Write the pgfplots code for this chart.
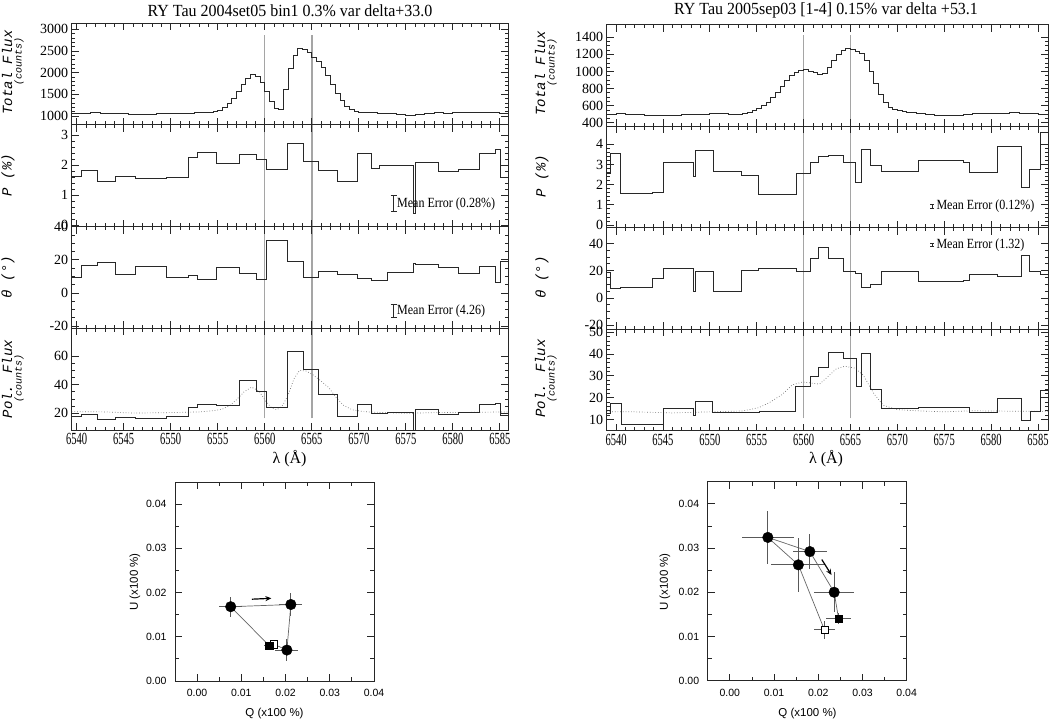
\documentclass[border=0pt]{standalone}
\usepackage{fontspec}
\setmainfont{Liberation Serif}
\newfontfamily\xtf{Liberation Serif}[FakeStretch=0.62]
\newfontfamily\mef{Liberation Serif}[FakeStretch=0.86]
\newfontfamily\ttf{Liberation Serif}[FakeStretch=0.94]
\newfontfamily\lfont{Liberation Mono}
\newfontfamily\qfont{Liberation Sans}
\usepackage{pgfplots}
\usepackage{pgfplotstable}
\pgfplotsset{compat=1.18}
\usetikzlibrary{arrows.meta}
\definecolor{lc}{RGB}{40,40,40}
\definecolor{vl}{RGB}{165,165,165}

% ---------- left spectrum (2004set05) ----------
\pgfplotstableread[row sep=\\]{
x y\\
6539.47 1060\\ 6540.5 1065\\ 6541.5 1070\\ 6542.5 1068\\ 6543.5 1055\\ 6544.5 1050\\ 6545.5 1040\\ 6546.5 1035\\
6547.5 1045\\ 6548.5 1058\\ 6549.5 1062\\ 6550.5 1068\\ 6551.5 1065\\ 6552.5 1070\\ 6553.5 1080\\ 6554.0 1085\\
6554.5 1100\\ 6555.0 1130\\ 6555.5 1190\\ 6556.0 1280\\ 6556.5 1410\\ 6557.0 1560\\ 6557.5 1720\\ 6558.0 1860\\
6558.5 1950\\ 6559.0 1920\\ 6559.5 1780\\ 6560.0 1560\\ 6560.5 1330\\ 6561.0 1170\\ 6561.5 1155\\ 6562.0 1600\\
6562.5 2100\\ 6563.0 2400\\ 6563.5 2570\\ 6564.0 2540\\ 6564.5 2460\\ 6565.0 2360\\ 6565.5 2260\\ 6566.0 2120\\
6566.5 1930\\ 6567.0 1720\\ 6567.5 1520\\ 6568.0 1350\\ 6568.5 1220\\ 6569.0 1140\\ 6569.5 1100\\ 6570.0 1085\\
6570.5 1080\\ 6571 1075\\ 6572 1065\\ 6573 1050\\ 6574 1030\\ 6575 1015\\ 6576 1035\\ 6577 1060\\
6578 1070\\ 6579 1065\\ 6580 1070\\ 6581 1075\\ 6582 1070\\ 6583 1075\\ 6584 1070\\ 6585 1060\\ 6585.9 1060\\
}\LflA
\pgfplotstableread[row sep=\\]{
x y\\
6539.47 1.63\\ 6540.5 1.80\\ 6542.2 1.44\\ 6544.1 1.63\\ 6546.2 1.56\\ 6549.5 1.59\\ 6551.9 2.26\\ 6552.8 2.41\\
6554.9 2.06\\ 6557.3 2.36\\ 6559.1 2.19\\ 6560.2 1.86\\ 6562.4 2.72\\ 6564.1 2.13\\ 6565.7 1.81\\ 6567.7 1.46\\
6569.9 2.39\\ 6571.3 1.88\\ 6572.2 1.97\\ 6575.8 0.39\\ 6576.0 2.09\\ 6578.5 1.77\\ 6580.6 1.86\\ 6582.8 2.39\\
6584.5 2.50\\ 6585.1 1.59\\ 6585.9 1.59\\
}\LP
\pgfplotstableread[row sep=\\]{
x y\\
6539.47 9.6\\ 6540.5 16.6\\ 6542.2 18.4\\ 6544.1 11.0\\ 6546.2 16.0\\ 6549.5 9.6\\ 6551.9 10.6\\ 6552.8 8.4\\
6554.9 15.4\\ 6557.3 12.0\\ 6559.1 8.0\\ 6560.2 31.7\\ 6562.4 19.0\\ 6564.1 9.4\\ 6565.7 13.0\\ 6567.7 11.4\\
6569.9 8.6\\ 6571.3 7.4\\ 6573.1 12.4\\ 6575.8 18.1\\ 6576.0 17.0\\ 6578.5 15.1\\ 6580.6 11.6\\ 6582.8 15.7\\
6584.5 6.4\\ 6585.1 19.0\\ 6585.9 19.0\\
}\LT
\pgfplotstableread[row sep=\\]{
x y\\
6539.47 18.1\\ 6540.5 19.0\\ 6542.2 16.0\\ 6544.1 17.0\\ 6546.2 16.7\\ 6549.5 17.7\\ 6551.9 24.2\\ 6552.8 26.0\\
6554.9 25.5\\ 6557.3 43.2\\ 6559.1 35.5\\ 6560.2 24.0\\ 6562.4 63.5\\ 6564.1 50.5\\ 6565.7 33.0\\ 6567.7 18.0\\
6569.9 26.5\\ 6571.3 20.0\\ 6573.1 20.3\\ 6575.8 2.0\\ 6576.0 22.5\\ 6578.5 19.5\\ 6580.6 20.5\\ 6582.8 26.0\\
6584.5 27.0\\ 6585.1 18.8\\ 6585.9 18.8\\
}\LPF
\pgfplotstableread[row sep=\\]{
x y\\
6539.47 21.2\\ 6543 21\\ 6546 20.2\\ 6550 20.5\\ 6553 21\\ 6554.5 21.8\\ 6555.5 23\\ 6556.3 25.5\\ 6557 29.5\\
6557.8 35\\ 6558.6 38.3\\ 6559.4 35.5\\ 6560.2 27.5\\ 6560.8 23.5\\ 6561.3 22.5\\ 6561.9 25.5\\ 6562.5 33\\
6563.1 44\\ 6563.7 50\\ 6564.4 49.5\\ 6565.1 47\\ 6565.9 43\\ 6566.8 38\\ 6567.6 31\\ 6568.4 25.5\\ 6569.3 22.5\\
6570.5 21.2\\ 6572 20.7\\ 6575 20\\ 6578 20.5\\ 6582 20.7\\ 6585.9 21\\
}\LPFd

% ---------- right spectrum (2005sep03) ----------
\pgfplotstableread[row sep=\\]{
x y\\
6539.0 500\\ 6540 505\\ 6541 500\\ 6542 495\\ 6543 490\\ 6544 485\\ 6545 480\\ 6546 490\\ 6547 495\\ 6548 492\\
6549 498\\ 6550 505\\ 6551 510\\ 6552 500\\ 6553 495\\ 6553.5 505\\ 6554.0 520\\ 6554.5 545\\ 6555.0 570\\
6555.5 600\\ 6556.0 640\\ 6556.5 690\\ 6557.0 750\\ 6557.5 830\\ 6558.0 900\\ 6558.5 950\\ 6559.0 990\\
6559.5 1015\\ 6560.0 1020\\ 6560.5 1005\\ 6561.0 985\\ 6561.5 970\\ 6562.0 980\\ 6562.5 1050\\ 6563.0 1130\\
6563.5 1200\\ 6564.0 1250\\ 6564.5 1265\\ 6565.0 1260\\ 6565.5 1240\\ 6566.0 1210\\ 6566.5 1130\\ 6567.0 1000\\
6567.5 860\\ 6568.0 730\\ 6568.5 640\\ 6569.0 580\\ 6569.5 555\\ 6570.0 540\\ 6570.5 530\\ 6571 520\\ 6572 510\\
6573 500\\ 6574 485\\ 6575 480\\ 6576 490\\ 6577 500\\ 6578 505\\ 6579 505\\ 6580 510\\ 6581 505\\ 6582 515\\
6583 508\\ 6584 505\\ 6585 500\\ 6586.1 500\\
}\RflA
\pgfplotstableread[row sep=\\]{
x y\\
6539.0 2.56\\ 6539.4 3.55\\ 6540.5 1.57\\ 6543.9 1.62\\ 6545.1 3.10\\ 6548.2 2.39\\ 6548.5 3.71\\ 6550.4 2.67\\
6553.4 2.48\\ 6555.2 1.52\\ 6559.2 2.54\\ 6560.7 3.10\\ 6561.6 3.38\\ 6562.6 3.47\\ 6564.3 3.10\\ 6565.5 2.11\\
6566.2 3.75\\ 6567.1 2.97\\ 6568.3 2.64\\ 6572.3 3.22\\ 6577.1 3.10\\ 6577.7 2.61\\ 6580.7 3.88\\ 6583.2 1.87\\
6584.1 2.76\\ 6585.3 4.57\\ 6586.1 4.57\\
}\RP
\pgfplotstableread[row sep=\\]{
x y\\
6539.0 18.6\\ 6539.4 7.1\\ 6540.5 7.9\\ 6543.9 14.3\\ 6545.1 21.9\\ 6548.2 4.8\\ 6548.5 19.7\\ 6550.4 5.0\\
6553.4 20.5\\ 6555.2 21.4\\ 6559.2 19.3\\ 6560.7 29.3\\ 6561.6 37.1\\ 6562.6 28.8\\ 6564.3 19.7\\ 6565.5 18.1\\
6566.2 7.9\\ 6567.1 10.2\\ 6568.3 19.7\\ 6572.3 12.1\\ 6577.1 12.6\\ 6577.7 17.1\\ 6580.7 15.5\\ 6583.2 30.9\\
6584.1 19.7\\ 6585.3 17.4\\ 6586.1 17.4\\
}\RT
\pgfplotstableread[row sep=\\]{
x y\\
6539.0 12.7\\ 6539.4 17.5\\ 6540.6 7.9\\ 6545.1 15.0\\ 6548.2 11.9\\ 6548.5 18.4\\ 6550.3 13.4\\ 6553.4 13.0\\
6555.3 13.7\\ 6559.1 25.1\\ 6560.7 29.6\\ 6561.6 34.0\\ 6562.6 40.9\\ 6564.3 38.2\\ 6565.6 25.1\\ 6566.2 40.2\\
6567.1 24.0\\ 6568.3 15.0\\ 6572.2 15.7\\ 6577.7 13.4\\ 6580.7 19.7\\ 6583.2 9.7\\ 6584.2 13.9\\ 6585.3 23.5\\
6586.1 23.5\\
}\RPF
\pgfplotstableread[row sep=\\]{
x y\\
6539.0 13.6\\ 6542 13.5\\ 6546 13.0\\ 6550 13.5\\ 6553.5 13.9\\ 6555.2 15.4\\ 6556.3 17.6\\ 6557.7 21.4\\
6558.8 25.9\\ 6559.9 27.2\\ 6561 26.6\\ 6561.7 26.2\\ 6562.6 29.7\\ 6563.5 33.3\\ 6564.4 34.4\\ 6565.5 33.5\\
6566.4 30.1\\ 6567.5 21.8\\ 6568.5 16.5\\ 6570 14.5\\ 6572 14\\ 6575 13.5\\ 6578 14\\ 6582 13.8\\ 6586.1 13.7\\
}\RPFd

% ---------- QU diagrams ----------
\pgfplotstableread[row sep=\\]{
x y\\
0.0163 0.0080\\ 0.0076 0.0168\\ 0.0212 0.0173\\ 0.0203 0.0070\\ 0.0174 0.0083\\
}\QLpath
\pgfplotstableread[row sep=\\]{
x y ex ey\\
0.0076 0.0168 0.0026 0.0023\\
0.0212 0.0173 0.0026 0.0026\\
0.0203 0.0070 0.0026 0.0025\\
}\QLc
\pgfplotstableread[row sep=\\]{
x y ex ey\\
0.0163 0.0080 0.0012 0.0005\\
}\QLf
\pgfplotstableread[row sep=\\]{
x y ex ey\\
0.0174 0.0083 0.0010 0.0008\\
}\QLo
\pgfplotstableread[row sep=\\]{
x y\\
0.0214 0.0115\\ 0.0155 0.0262\\ 0.0086 0.0324\\ 0.0181 0.0292\\ 0.0236 0.0200\\ 0.0246 0.0140\\
}\QRpath
\pgfplotstableread[row sep=\\]{
x y ex ey\\
0.0086 0.0324 0.0059 0.0059\\
0.0181 0.0292 0.0038 0.0039\\
0.0155 0.0262 0.0061 0.0061\\
0.0236 0.0200 0.0045 0.0045\\
}\QRc
\pgfplotstableread[row sep=\\]{
x y ex ey\\
0.0246 0.0140 0.0029 0.0012\\
}\QRf
\pgfplotstableread[row sep=\\]{
x y ex ey\\
0.0214 0.0115 0.0023 0.0020\\
}\QRo

\pgfplotsset{
  pcommon/.style={scale only axis, anchor=north west, tick align=inside,
    xtick={6540,6545,...,6585}, minor x tick num=4,
    major tick length=7pt, minor tick length=3.5pt,
    axis line style={line width=1pt, draw=lc},
    tick style={lc, line width=0.75pt},
    xticklabel style={font=\xtf\fontsize{17}{17}\selectfont},
    yticklabel style={font=\fontsize{14}{14}\selectfont},
    /pgf/number format/assume math mode=true,
    /pgf/number format/1000 sep={},
    axis on top},
  panelL/.style={pcommon, at={(71.7pt,#1)}, width=436.6pt, height=101.7pt, xmin=6539.47, xmax=6585.9},
  panelR/.style={pcommon, at={(606.7pt,#1)}, width=441.6pt, height=101.4pt, xmin=6539.0, xmax=6586.1},
  stepline/.style={const plot mark left, no marks, draw=lc, line width=0.9pt},
  dotline/.style={sharp plot, no marks, draw=black!55, line width=0.7pt, dotted},
  meanbar/.style={no marks, draw=lc, line width=0.8pt, arrows={Bar[width=#1]-Bar[width=#1]}},
  qu/.style={scale only axis, anchor=south west, width=199pt, height=199pt,
    xmin=-0.005, xmax=0.04, ymin=0, ymax=0.045,
    xtick={0,0.01,0.02,0.03,0.04}, ytick={0,0.01,0.02,0.03,0.04},
    minor x tick num=1, minor y tick num=1, tick align=inside,
    major tick length=7pt, minor tick length=4pt, scaled ticks=false,
    axis line style={line width=1pt, draw=black!85},
    tick style={black!85, line width=0.8pt},
    tick label style={font=\qfont\fontsize{10.5}{10.5}\selectfont},
    xticklabel style={yshift=-5pt, /pgf/number format/.cd, fixed, fixed zerofill, precision=2, assume math mode=true},
    yticklabel style={xshift=-5pt, /pgf/number format/.cd, fixed, fixed zerofill, precision=2, assume math mode=true},
    clip=false},
  errs/.style={error bars/.cd, x dir=both, x explicit, y dir=both, y explicit,
    error mark=none, error bar style={draw=black!65, line width=0.8pt, solid}},
}

\begin{document}
\begin{tikzpicture}
\useasboundingbox (0,0) rectangle (1051pt,721pt);

% ================= LEFT STACK =================
\begin{axis}[panelL={697.7pt}, ymin=790, ymax=3140, ytick={1000,1500,...,3000}, minor y tick num=4, xticklabels={}]
\addplot[vl, line width=1pt] coordinates {(6560,790) (6560,2860)};
\addplot[vl, line width=1.5pt] coordinates {(6565,790) (6565,2860)};
\addplot[stepline] table[x=x,y=y] {\LflA};
\end{axis}

\begin{axis}[panelL={596pt}, ymin=-0.06, ymax=3.33, ytick={0,1,2,3}, minor y tick num=4, xticklabels={}]
\addplot[vl, line width=1pt] coordinates {(6560,-0.06) (6560,3.33)};
\addplot[vl, line width=1.5pt] coordinates {(6565,-0.06) (6565,3.33)};
\addplot[stepline] table[x=x,y=y] {\LP};
\addplot[meanbar=6pt] coordinates {(6573.7,0.42) (6573.7,0.98)};
\node[anchor=west, inner sep=1pt, font=\mef\fontsize{14}{14}\selectfont] at (axis cs:6573.95,0.70) {Mean Error (0.28\%)};
\end{axis}

\begin{axis}[panelL={494.3pt}, ymin=-21.4, ymax=40, ytick={-20,0,20,40}, minor y tick num=3, xticklabels={}]
\addplot[vl, line width=1pt] coordinates {(6560,-21.4) (6560,40)};
\addplot[vl, line width=1.5pt] coordinates {(6565,-21.4) (6565,40)};
\addplot[stepline] table[x=x,y=y] {\LT};
\addplot[meanbar=6pt] coordinates {(6573.7,-15.06) (6573.7,-6.54)};
\node[anchor=west, inner sep=1pt, font=\mef\fontsize{14}{14}\selectfont] at (axis cs:6573.95,-10.8) {Mean Error (4.26)};
\end{axis}

\begin{axis}[panelL={392.6pt}, ymin=8.3, ymax=79.3, ytick={20,40,60}, minor y tick num=3]
\addplot[vl, line width=1pt] coordinates {(6560,16.5) (6560,79.3)};
\addplot[vl, line width=1.5pt] coordinates {(6565,16.5) (6565,79.3)};
\addplot[dotline] table[x=x,y=y] {\LPFd};
\addplot[stepline] table[x=x,y=y] {\LPF};
\end{axis}

% ================= RIGHT STACK =================
\begin{axis}[panelR={696pt}, ymin=357, ymax=1544, ytick={400,600,...,1400}, minor y tick num=3, xticklabels={}]
\addplot[vl, line width=1.5pt] coordinates {(6560,357) (6560,1427)};
\addplot[vl, line width=1.5pt] coordinates {(6565,357) (6565,1427)};
\addplot[stepline] table[x=x,y=y] {\RflA};
\end{axis}

\begin{axis}[panelR={594.6pt}, ymin=-0.14, ymax=4.89, ytick={0,1,2,3,4}, minor y tick num=4, xticklabels={}]
\addplot[vl, line width=1.5pt] coordinates {(6560,-0.14) (6560,4.89)};
\addplot[vl, line width=1.5pt] coordinates {(6565,-0.14) (6565,4.89)};
\addplot[stepline] table[x=x,y=y] {\RP};
\addplot[meanbar=4pt] coordinates {(6573.7,0.82) (6573.7,1.06)};
\node[anchor=west, inner sep=1pt, font=\mef\fontsize{14}{14}\selectfont] at (axis cs:6574.05,0.94) {Mean Error (0.12\%)};
\end{axis}

\begin{axis}[panelR={493.2pt}, ymin=-23, ymax=51.5, ytick={-20,0,20,40}, minor y tick num=3, xticklabels={}]
\addplot[vl, line width=1.5pt] coordinates {(6560,-23) (6560,51.5)};
\addplot[vl, line width=1.5pt] coordinates {(6565,-23) (6565,51.5)};
\addplot[stepline] table[x=x,y=y] {\RT};
\addplot[meanbar=4pt] coordinates {(6573.7,37.48) (6573.7,40.12)};
\node[anchor=west, inner sep=1pt, font=\mef\fontsize{14}{14}\selectfont] at (axis cs:6574.05,38.8) {Mean Error (1.32)};
\end{axis}

\begin{axis}[panelR={391.8pt}, ymin=4.9, ymax=51.4, ytick={10,20,30,40,50}, minor y tick num=4]
\addplot[vl, line width=1.5pt] coordinates {(6560,10.5) (6560,51.4)};
\addplot[vl, line width=1.5pt] coordinates {(6565,10.5) (6565,51.4)};
\addplot[dotline] table[x=x,y=y] {\RPFd};
\addplot[stepline] table[x=x,y=y] {\RPF};
\end{axis}

% titles and labels
\node[font=\ttf\fontsize{17}{17}\selectfont] at (290pt,710.5pt) {RY Tau 2004set05 bin1 0.3\% var delta+33.0};
\node[font=\ttf\fontsize{17}{17}\selectfont] at (826pt,710.5pt) {RY Tau 2005sep03 [1-4] 0.15\% var delta +53.1};
\node[font=\fontsize{16}{16}\selectfont] at (289.5pt,262pt) {λ (Å)};
\node[font=\fontsize{16}{16}\selectfont] at (826pt,262pt) {λ (Å)};

\begin{scope}[every node/.style={rotate=90}]
\node[font=\lfont\itshape\fontsize{14}{14}\selectfont] at (7pt,648.5pt) {Total Flux};
\node[font=\lfont\itshape\fontsize{10}{10}\selectfont] at (19pt,659.5pt) {(counts)};
\node[font=\lfont\itshape\fontsize{14}{14}\selectfont] at (8pt,546pt) {P (\%)};
\node[font=\lfont\itshape\fontsize{14}{14}\selectfont] at (8pt,444pt) {θ (°)};
\node[font=\lfont\itshape\fontsize{14}{14}\selectfont] at (7pt,342pt) {Pol. Flux};
\node[font=\lfont\itshape\fontsize{10}{10}\selectfont] at (19pt,343pt) {(counts)};
\node[font=\lfont\itshape\fontsize{14}{14}\selectfont] at (540pt,647.5pt) {Total Flux};
\node[font=\lfont\itshape\fontsize{10}{10}\selectfont] at (552pt,658.5pt) {(counts)};
\node[font=\lfont\itshape\fontsize{14}{14}\selectfont] at (542pt,545pt) {P (\%)};
\node[font=\lfont\itshape\fontsize{14}{14}\selectfont] at (542pt,443.5pt) {θ (°)};
\node[font=\lfont\itshape\fontsize{14}{14}\selectfont] at (540pt,342.5pt) {Pol. Flux};
\node[font=\lfont\itshape\fontsize{10}{10}\selectfont] at (552pt,343pt) {(counts)};
\node[font=\qfont\fontsize{11.5}{11.5}\selectfont] at (135pt,139pt) {U (x100 \%)};
\node[font=\qfont\fontsize{11.5}{11.5}\selectfont] at (665pt,139pt) {U (x100 \%)};
\end{scope}
\node[font=\qfont\fontsize{11.5}{11.5}\selectfont] at (274.5pt,7pt) {Q (x100 \%)};
\node[font=\qfont\fontsize{11.5}{11.5}\selectfont] at (807.5pt,7pt) {Q (x100 \%)};

% ================= QU LEFT =================
\begin{axis}[qu, at={(175pt,40pt)}]
\addplot[no marks, draw=black!60, line width=0.7pt] table[x=x,y=y] {\QLpath};
\addplot[only marks, mark=square*, mark size=3.6pt, mark options={fill=white, draw=black, line width=0.7pt}, errs] table[x=x,y=y,x error=ex,y error=ey] {\QLo};
\addplot[only marks, mark=square*, mark size=3.6pt, mark options={fill=black, draw=black}, errs] table[x=x,y=y,x error=ex,y error=ey] {\QLf};
\addplot[only marks, mark=*, mark size=5.3pt, mark options={fill=black, draw=black}, errs] table[x=x,y=y,x error=ex,y error=ey] {\QLc};
\addplot[no marks, draw=black, line width=1.2pt, -{Stealth[length=6pt,width=5pt]}] coordinates {(0.0124,0.0185) (0.0168,0.0187)};
\end{axis}

% ================= QU RIGHT =================
\begin{axis}[qu, at={(707.7pt,40.3pt)}]
\addplot[no marks, draw=black!60, line width=0.7pt] table[x=x,y=y] {\QRpath};
\addplot[only marks, mark=square*, mark size=3.6pt, mark options={fill=white, draw=black, line width=0.7pt}, errs] table[x=x,y=y,x error=ex,y error=ey] {\QRo};
\addplot[only marks, mark=square*, mark size=3.6pt, mark options={fill=black, draw=black}, errs] table[x=x,y=y,x error=ex,y error=ey] {\QRf};
\addplot[only marks, mark=*, mark size=5.3pt, mark options={fill=black, draw=black}, errs] table[x=x,y=y,x error=ex,y error=ey] {\QRc};
\addplot[no marks, draw=black, line width=1.2pt, -{Stealth[length=6pt,width=5pt]}] coordinates {(0.0208,0.0274) (0.0230,0.0239)};
\end{axis}
\end{tikzpicture}
\end{document}
